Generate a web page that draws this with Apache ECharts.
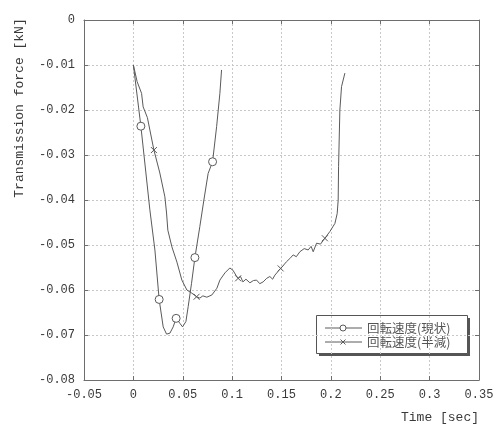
<!DOCTYPE html>
<html><head><meta charset="utf-8">
<script src="https://cdn.jsdelivr.net/npm/echarts@6/dist/echarts.min.js"></script>
<style>html,body{margin:0;padding:0;background:#fff}#c{width:503px;height:425px}</style>
</head><body><div id="c"></div>
<script>
// ---- data ----
const seriesNames = ['回転速度(現状)', '回転速度(半減)'];
const xTickValues = [-0.05, 0, 0.05, 0.1, 0.15, 0.2, 0.25, 0.3, 0.35];
const xTickLabels = ['-0.05', '0', '0.05', '0.1', '0.15', '0.2', '0.25', '0.3', '0.35'];
const yTickValues = [0, -0.01, -0.02, -0.03, -0.04, -0.05, -0.06, -0.07, -0.08];
const yTickLabels = ['0', '-0.01', '-0.02', '-0.03', '-0.04', '-0.05', '-0.06', '-0.07', '-0.08'];

const s1Time = [0, 0.0076, 0.0167, 0.0218, 0.0261, 0.0302, 0.0336, 0.0370, 0.0403, 0.0433, 0.0471, 0.0498, 0.0532, 0.0555, 0.0589, 0.0623, 0.0673, 0.0714, 0.0757, 0.0802, 0.0843, 0.0876, 0.0893];
const s1Force = [-0.0100, -0.0236, -0.0422, -0.0511, -0.0621, -0.0682, -0.0698, -0.0696, -0.0682, -0.0663, -0.0674, -0.0682, -0.0670, -0.0637, -0.0585, -0.0528, -0.0459, -0.0400, -0.0341, -0.0315, -0.0237, -0.0163, -0.0111];
const s1Markers = [1, 4, 9, 15, 19];

const s2Time = [0, 0.0038, 0.0083, 0.0099, 0.0142, 0.0208, 0.0268, 0.0319, 0.0336, 0.0349, 0.0390, 0.0441, 0.0491, 0.0542, 0.0592, 0.0640, 0.0673, 0.0704, 0.0744, 0.0795, 0.0846, 0.0876, 0.0927, 0.0977, 0.1008, 0.1038, 0.1061, 0.1085, 0.1109, 0.1140, 0.1180, 0.1215, 0.1248, 0.1280, 0.1314, 0.1350, 0.1382, 0.1410, 0.1433, 0.1460, 0.1491, 0.1520, 0.1551, 0.1585, 0.1618, 0.1650, 0.1686, 0.1730, 0.1770, 0.1800, 0.1821, 0.1855, 0.1895, 0.1939, 0.1990, 0.2041, 0.2064, 0.2074, 0.2078, 0.2091, 0.2108, 0.2142];
const s2Force = [-0.0100, -0.0137, -0.0163, -0.0193, -0.0217, -0.0289, -0.0340, -0.0393, -0.0429, -0.0467, -0.0504, -0.0538, -0.0578, -0.0600, -0.0607, -0.0615, -0.0618, -0.0613, -0.0616, -0.0611, -0.0596, -0.0578, -0.0562, -0.0551, -0.0556, -0.0567, -0.0574, -0.0570, -0.0582, -0.0576, -0.0584, -0.0579, -0.0578, -0.0586, -0.0582, -0.0574, -0.0570, -0.0576, -0.0567, -0.0560, -0.0552, -0.0545, -0.0537, -0.0530, -0.0522, -0.0526, -0.0515, -0.0508, -0.0511, -0.0503, -0.0515, -0.0496, -0.0498, -0.0485, -0.0470, -0.0452, -0.0430, -0.0400, -0.0326, -0.0200, -0.0148, -0.0118];
const s2Markers = [5, 15, 26, 40, 53];

// ---- build ----
const lineColor = '#5a5a5a';
function build(times, forces, markers, sym, size) {
  return times.map((t, i) => {
    const item = { value: [t, forces[i]] };
    if (markers.indexOf(i) >= 0) { item.symbol = sym; item.symbolSize = size; }
    return item;
  });
}
const xSym = 'path://M0,0L10,10M10,0L0,10';
function fmt(vals, labels) {
  return v => { for (let i = 0; i < vals.length; i++) if (Math.abs(vals[i] - v) < 1e-9) return labels[i]; return ''; };
}
const mono = '"Liberation Mono", "DejaVu Sans Mono", monospace';
const gridLine = { show: true, lineStyle: { color: '#c8c8c8', type: [2, 2], width: 1 } };
const axisLine = { show: true, onZero: false, lineStyle: { color: '#6e6e6e', width: 1 } };
const tick = { inside: true, length: 4, lineStyle: { color: '#6e6e6e' } };

const chart = echarts.init(document.getElementById('c'), null, { renderer: 'canvas' });
chart.setOption({
  backgroundColor: '#ffffff',
  animation: false,
  grid: { left: 84, right: 24, top: 20, bottom: 45 },
  xAxis: [{
    type: 'value', min: -0.05, max: 0.35, interval: 0.05, position: 'bottom',
    axisLine: axisLine, axisTick: tick,
    splitLine: gridLine,
    axisLabel: { formatter: fmt(xTickValues, xTickLabels), color: '#3a3a3a', fontFamily: mono, fontSize: 12, margin: 9 },
    name: 'Time [sec]', nameLocation: 'end', nameGap: 0,
    nameTextStyle: { fontFamily: mono, fontSize: 13, color: '#3a3a3a', align: 'right', verticalAlign: 'top', padding: [31, 0, 0, 0] }
  }, {
    type: 'value', min: -0.05, max: 0.35, interval: 0.05, position: 'top',
    axisLine: axisLine, axisTick: tick,
    splitLine: { show: false }, axisLabel: { show: false }
  }],
  yAxis: [{
    type: 'value', min: -0.08, max: 0, interval: 0.01, position: 'left',
    axisLine: axisLine, axisTick: tick,
    splitLine: gridLine,
    axisLabel: { formatter: fmt(yTickValues, yTickLabels), color: '#3a3a3a', fontFamily: mono, fontSize: 12, margin: 9 },
    name: 'Transmission force [kN]', nameLocation: 'middle', nameGap: 58, nameRotate: 90,
    nameTextStyle: { fontFamily: mono, fontSize: 13, color: '#3a3a3a', padding: [0, 0, 0, 184] }
  }, {
    type: 'value', min: -0.08, max: 0, interval: 0.01, position: 'right',
    axisLine: axisLine, axisTick: tick,
    splitLine: { show: false }, axisLabel: { show: false }
  }],
  series: [{
    name: seriesNames[0], type: 'line', xAxisIndex: 0, yAxisIndex: 0,
    symbol: 'none', showSymbol: true,
    lineStyle: { color: lineColor, width: 1 },
    itemStyle: { color: '#ffffff', borderColor: lineColor, borderWidth: 1 },
    data: build(s1Time, s1Force, s1Markers, 'circle', 8)
  }, {
    name: seriesNames[1], type: 'line', xAxisIndex: 0, yAxisIndex: 0,
    symbol: 'none', showSymbol: true,
    lineStyle: { color: lineColor, width: 1 },
    itemStyle: { color: 'none', borderColor: lineColor, borderWidth: 1 },
    data: build(s2Time, s2Force, s2Markers, xSym, 6)
  }],
  graphic: [
    { type: 'rect', shape: { x: 319, y: 318, width: 151, height: 38 }, style: { fill: '#555' }, silent: true },
    { type: 'rect', shape: { x: 316.5, y: 315.5, width: 151, height: 38 }, style: { fill: '#fff', stroke: '#555', lineWidth: 1 }, silent: true },
    { type: 'line', shape: { x1: 325, y1: 328, x2: 362, y2: 328 }, style: { stroke: lineColor, lineWidth: 1 } },
    { type: 'circle', shape: { cx: 343, cy: 328, r: 3 }, style: { fill: '#fff', stroke: lineColor, lineWidth: 1 } },
    { type: 'line', shape: { x1: 325, y1: 342, x2: 362, y2: 342 }, style: { stroke: lineColor, lineWidth: 1 } },
    { type: 'polyline', shape: { points: [[340.5, 339.5], [345.5, 344.5]] }, style: { stroke: lineColor, lineWidth: 1 } },
    { type: 'polyline', shape: { points: [[345.5, 339.5], [340.5, 344.5]] }, style: { stroke: lineColor, lineWidth: 1 } },
    { type: 'text', x: 367, y: 328, style: { text: seriesNames[0], font: '12.5px "Noto Sans CJK JP"', fill: '#555', verticalAlign: 'middle' } },
    { type: 'text', x: 367, y: 342, style: { text: seriesNames[1], font: '12.5px "Noto Sans CJK JP"', fill: '#555', verticalAlign: 'middle' } }
  ]
});
</script></body></html>
